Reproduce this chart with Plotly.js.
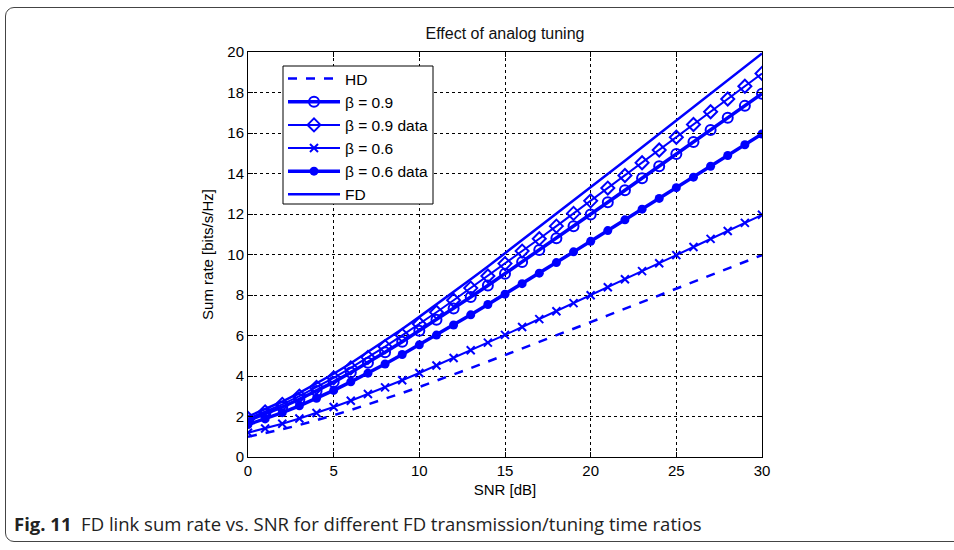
<!DOCTYPE html>
<html>
<head>
<meta charset="utf-8">
<script src="https://cdn.plot.ly/plotly-3.0.1.min.js"></script>
<style>
html,body{margin:0;padding:0;background:#fff;width:954px;height:550px;overflow:hidden;}
#frame{position:absolute;left:5px;top:7px;width:1000px;height:535px;border:1px solid #444;border-radius:9px;box-sizing:border-box;}
#chart{position:absolute;left:0;top:0;width:954px;height:550px;}
</style>
</head>
<body>
<div id="frame"></div>
<div id="chart"></div>
<script>
const snr = [0,1,2,3,4,5,6,7,8,9,10,11,12,13,14,15,16,17,18,19,20,21,22,23,24,25,26,27,28,29,30];
const hd = [1.00,1.18,1.37,1.58,1.81,2.06,2.32,2.59,2.87,3.16,3.46,3.76,4.07,4.39,4.71,5.03,5.35,5.68,6.00,6.33,6.66,6.99,7.32,7.65,7.98,8.31,8.64,8.97,9.30,9.64,9.97];
const beta09 = [1.80,2.12,2.47,2.85,3.26,3.70,4.17,4.66,5.17,5.69,6.23,6.78,7.33,7.90,8.47,9.05,9.63,10.22,10.80,11.39,11.98,12.58,13.17,13.77,14.36,14.96,15.55,16.15,16.75,17.34,17.94];
const beta09data = [1.90,2.23,2.60,3.01,3.44,3.91,4.40,4.92,5.45,6.01,6.57,7.15,7.74,8.34,8.94,9.55,10.17,10.78,11.40,12.03,12.65,13.28,13.90,14.53,15.16,15.79,16.42,17.05,17.68,18.31,18.94];
const beta06 = [1.20,1.41,1.64,1.90,2.17,2.47,2.78,3.11,3.44,3.79,4.15,4.52,4.89,5.27,5.65,6.03,6.42,6.81,7.20,7.60,7.99,8.38,8.78,9.18,9.57,9.97,10.37,10.77,11.16,11.56,11.96];
const beta06data = [1.60,1.88,2.19,2.53,2.90,3.29,3.71,4.14,4.59,5.06,5.54,6.02,6.52,7.02,7.53,8.04,8.56,9.08,9.60,10.13,10.65,11.18,11.71,12.24,12.77,13.30,13.82,14.36,14.89,15.42,15.95];
const fd = [2.00,2.35,2.74,3.17,3.62,4.11,4.63,5.18,5.74,6.32,6.92,7.53,8.15,8.78,9.41,10.06,10.70,11.35,12.00,12.66,13.32,13.97,14.63,15.30,15.96,16.62,17.28,17.94,18.61,19.27,19.93];
const names = ['HD','β = 0.9','β = 0.9 data','β = 0.6','β = 0.6 data','FD'];
const xTicks = [0,5,10,15,20,25,30];
const yTicks = [0,2,4,6,8,10,12,14,16,18,20];

const blue = '#0000ff';
const traces = [
  {x:snr,y:hd,name:names[0],mode:'lines',line:{color:blue,width:2.5,dash:'dash'}},
  {x:snr,y:beta09,name:names[1],mode:'lines+markers',line:{color:blue,width:3.5},marker:{symbol:'circle-open',size:10,color:blue,line:{width:2,color:blue}}},
  {x:snr,y:beta09data,name:names[2],mode:'lines+markers',line:{color:blue,width:2},marker:{symbol:'diamond-open',size:10,color:blue,line:{width:2,color:blue}}},
  {x:snr,y:beta06,name:names[3],mode:'lines+markers',line:{color:blue,width:2},marker:{symbol:'x-thin-open',size:8,color:blue,line:{width:2,color:blue}}},
  {x:snr,y:beta06data,name:names[4],mode:'lines+markers',line:{color:blue,width:3.5},marker:{symbol:'circle',size:9,color:blue}},
  {x:snr,y:fd,name:names[5],mode:'lines',line:{color:blue,width:2.5}}
];
const fam = 'Liberation Sans, Arial, sans-serif';
const tickFont = {family:fam,size:15,color:'#000'};
const titleFont = {family:fam,size:15,color:'#000'};
const W = 514, H = 405, L = 248, B = 457;
const px = v => (v - L) / W;
const py = v => (B - v) / H;
const layout = {
  width:954,height:550,
  margin:{l:248,r:192,t:52,b:93,pad:0},
  paper_bgcolor:'rgba(0,0,0,0)',plot_bgcolor:'#fff',
  font:tickFont,
  title:{text:'Effect of analog tuning',font:{family:fam,size:16,color:'#111'},xref:'paper',x:0.5,xanchor:'center',y:1-33/550,yanchor:'middle'},
  xaxis:{range:[0,30],tickvals:xTicks,ticktext:xTicks.map(String),ticks:'inside',ticklen:5,tickcolor:'#000',
    showline:true,linecolor:'#000',linewidth:1,mirror:'ticks',showgrid:true,gridcolor:'#000',griddash:'dot',gridwidth:1,
    zeroline:false,tickfont:tickFont,
    title:{text:'SNR [dB]',font:titleFont,standoff:6}},
  yaxis:{range:[0,20],tickvals:yTicks,ticktext:yTicks.map(String),ticks:'inside',ticklen:5,tickcolor:'#000',
    showline:true,linecolor:'#000',linewidth:1,mirror:'ticks',showgrid:true,gridcolor:'#000',griddash:'dot',gridwidth:1,
    zeroline:false,tickfont:tickFont,
    title:{text:'Sum rate [bits/s/Hz]',font:titleFont,standoff:10}},
  legend:{x:px(283),y:py(62),xanchor:'left',yanchor:'top',bgcolor:'rgba(0,0,0,0)',borderwidth:0,
    font:{family:fam,size:15.5,color:'#000'},itemwidth:52,tracegroupgap:0},
  showlegend:true,
  shapes:[{type:'rect',xref:'paper',yref:'paper',x0:px(283),x1:px(433),y0:py(204),y1:py(66),
    fillcolor:'#fff',line:{color:'#000',width:1},layer:'above'}],
  annotations:[{xref:'paper',yref:'paper',x:px(12),y:py(523),xanchor:'left',yanchor:'middle',showarrow:false,
    text:'<b>Fig. 11</b>  FD link sum rate vs. SNR for different FD transmission/tuning time ratios',
    font:{family:'Open Sans, sans-serif',size:18.5,color:'#222'}}]
};
Plotly.newPlot('chart',traces,layout,{displayModeBar:false,staticPlot:true});
</script>
</body>
</html>
